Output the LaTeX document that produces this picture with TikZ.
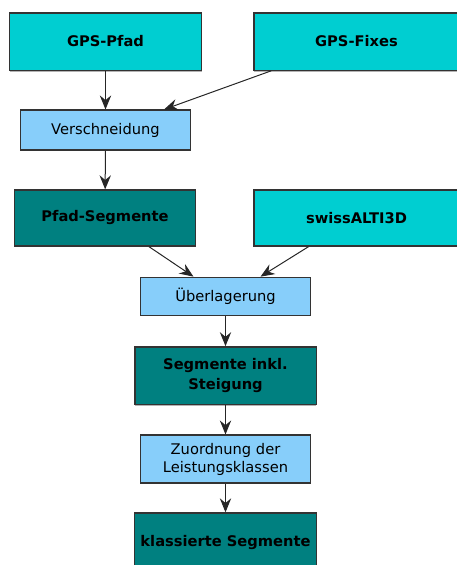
\documentclass[tikz,border=0pt]{standalone}
\usepackage{fontspec}
\setmainfont{DejaVu Sans}
\usepackage{xcolor}
\usetikzlibrary{arrows.meta,positioning,calc,shadows}

\definecolor{datacyan}{RGB}{0,206,209}
\definecolor{datateal}{RGB}{0,128,128}
\definecolor{proclight}{RGB}{135,206,250}

\begin{document}
\begin{tikzpicture}[x=0.75pt, y=-0.75pt,
    databox/.style={draw=black!80, line width=1pt, fill=datacyan, inner sep=0pt,
        font=\fontsize{11}{15}\selectfont\bfseries, align=center,
        drop shadow={shadow xshift=0pt, shadow yshift=-1pt, opacity=0.6}},
    resultbox/.style={databox, fill=datateal},
    procbox/.style={draw=black!80, line width=0.8pt, fill=proclight, inner sep=0pt,
        font=\fontsize{11}{13.5}\selectfont, align=center},
    flow/.style={-{Stealth[length=10.5pt, width=8.5pt, inset=3.5pt]}, black!85, line width=0.75pt}]
    \clip (0,0) rectangle (457,565);
    \useasboundingbox (0,0) rectangle (457,565);

    % Input data
    \node[databox, minimum width=144pt, minimum height=43pt] (gpspfad) at (105.5,41.5) {GPS-Pfad};
    \node[databox, minimum width=154pt, minimum height=43pt] (gpsfixes) at (356.5,41.5) {GPS-Fixes};

    % Step 1
    \node[procbox, minimum width=127.5pt, minimum height=30pt] (versch) at (105.5,130) {Verschneidung};
    \node[resultbox, minimum width=136pt, minimum height=42pt] (pfadseg) at (105,218) {Pfad-Segmente};
    \node[databox, minimum width=154pt, minimum height=42pt] (swissalti) at (356.5,218) {swissALTI3D};

    % Step 2
    \node[procbox, minimum width=127.5pt, minimum height=29pt] (ueber) at (225.5,296.5) {Überlagerung};
    \node[resultbox, minimum width=136pt, minimum height=43pt] (seginkl) at (225.5,375.5) {Segmente inkl.\\Steigung};

    % Step 3
    \node[procbox, minimum width=127.5pt, minimum height=36pt] (zuord) at (225.5,459) {Zuordnung der\\Leistungsklassen};
    \node[resultbox, minimum width=136.5pt, minimum height=45pt] (klass) at (225.5,543) {klassierte Segmente};

    % Connectors
    \draw[flow] (gpspfad) -- (versch);
    \draw[flow] ($(gpsfixes.south west)+(18,0)$) -- ($(versch.north east)+(-27,0)$);
    \draw[flow] (versch) -- (pfadseg);
    \draw[flow] ($(pfadseg.south)+(44,0)$) -- ($(ueber.north)+(-32,0)$);
    \draw[flow] ($(swissalti.south)+(-48,0)$) -- ($(ueber.north)+(35,0)$);
    \draw[flow] (ueber) -- (seginkl);
    \draw[flow] (seginkl) -- (zuord);
    \draw[flow] (zuord) -- (klass);
\end{tikzpicture}
\end{document}
